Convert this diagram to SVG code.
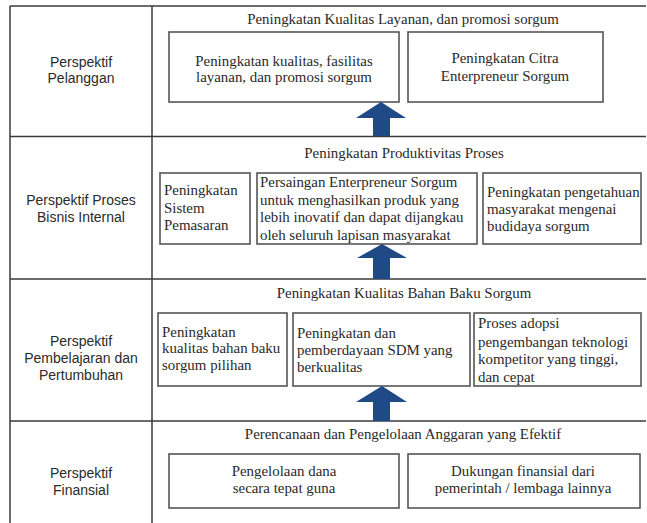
<svg xmlns="http://www.w3.org/2000/svg" width="647" height="523" viewBox="0 0 647 523">
<style>
.frame{stroke:#3a3a3a;stroke-width:1.5;fill:none}
.box{fill:#fff;stroke:#555;stroke-width:1.6}
.lbl{font-family:"Liberation Sans",Arial,sans-serif;font-size:14px;fill:#2a2a2a;text-anchor:middle}
.t{font-family:"Liberation Serif","Times New Roman",serif;font-size:14.9px;fill:#2a2a2a}
.c{text-anchor:middle}
.arr{fill:#1f4a86}
</style>
<rect width="647" height="523" fill="#fff"/>
<g id="grid" class="frame">
<line x1="10" y1="6" x2="646" y2="6"/>
<line x1="10" y1="6" x2="10" y2="523"/>
<line x1="152" y1="6" x2="152" y2="523"/>
<line x1="10" y1="136.5" x2="646" y2="136.5"/>
<line x1="10" y1="279" x2="646" y2="279"/>
<line x1="10" y1="421" x2="646" y2="421"/>
</g>
<g id="label-pelanggan"><text class="lbl" x="81" y="67">Perspektif</text><text class="lbl" x="81" y="83">Pelanggan</text></g>
<g id="label-proses"><text class="lbl" x="81" y="205">Perspektif Proses</text><text class="lbl" x="81" y="222">Bisnis Internal</text></g>
<g id="label-pembelajaran"><text class="lbl" x="81" y="346">Perspektif</text><text class="lbl" x="81" y="363">Pembelajaran dan</text><text class="lbl" x="81" y="380">Pertumbuhan</text></g>
<g id="label-finansial"><text class="lbl" x="81" y="478">Perspektif</text><text class="lbl" x="81" y="495">Finansial</text></g>

<g id="title1"><text class="t c" x="403" y="24">Peningkatan Kualitas Layanan, dan promosi sorgum</text></g>
<g id="box1a"><rect class="box" x="169" y="32" width="230" height="70"/><text class="t c" x="284" y="66">Peningkatan kualitas, fasilitas</text><text class="t c" x="284" y="82">layanan, dan promosi sorgum</text></g>
<g id="box1b"><rect class="box" x="408" y="32" width="195" height="70"/><text class="t c" x="505" y="63">Peningkatan Citra</text><text class="t c" x="505" y="81">Enterpreneur Sorgum</text></g>

<g id="title2"><text class="t c" x="404" y="158">Peningkatan Produktivitas Proses</text></g>
<g id="box2a"><rect class="box" x="160" y="173" width="90" height="71"/><text class="t" x="164" y="195">Peningkatan</text><text class="t" x="164" y="213">Sistem</text><text class="t" x="164" y="230">Pemasaran</text></g>
<g id="box2b"><rect class="box" x="257" y="173" width="220" height="71"/><text class="t" x="260" y="187">Persaingan Enterpreneur Sorgum</text><text class="t" x="260" y="205">untuk menghasilkan produk yang</text><text class="t" x="260" y="222">lebih inovatif dan dapat dijangkau</text><text class="t" x="260" y="240">oleh seluruh lapisan masyarakat</text></g>
<g id="box2c"><rect class="box" x="483" y="173" width="158" height="71"/><text class="t" x="487" y="197">Peningkatan pengetahuan</text><text class="t" x="487" y="214">masyarakat mengenai</text><text class="t" x="487" y="231">budidaya sorgum</text></g>

<g id="title3"><text class="t c" x="404" y="298">Peningkatan Kualitas Bahan Baku Sorgum</text></g>
<g id="box3a"><rect class="box" x="158" y="313" width="129" height="73"/><text class="t" x="162" y="337">Peningkatan</text><text class="t" x="162" y="353">kualitas bahan baku</text><text class="t" x="162" y="370">sorgum pilihan</text></g>
<g id="box3b"><rect class="box" x="293" y="313" width="177" height="73"/><text class="t" x="297" y="338">Peningkatan dan</text><text class="t" x="297" y="355">pemberdayaan SDM yang</text><text class="t" x="297" y="372">berkualitas</text></g>
<g id="box3c"><rect class="box" x="474" y="313" width="167" height="73"/><text class="t" x="478" y="328">Proses adopsi</text><text class="t" x="478" y="347">pengembangan teknologi</text><text class="t" x="478" y="364">kompetitor yang tinggi,</text><text class="t" x="478" y="382">dan cepat</text></g>

<g id="title4"><text class="t c" x="403" y="439">Perencanaan dan Pengelolaan Anggaran yang Efektif</text></g>
<g id="box4a"><rect class="box" x="169" y="454" width="230" height="54"/><text class="t c" x="284" y="476">Pengelolaan dana</text><text class="t c" x="284" y="493">secara tepat guna</text></g>
<g id="box4b"><rect class="box" x="408" y="454" width="232" height="54"/><text class="t c" x="523" y="476">Dukungan finansial dari</text><text class="t c" x="523" y="493">pemerintah / lembaga lainnya</text></g>

<g id="connectors">
<polygon class="arr" points="381,102 406,118 390,118 390,136 373,136 373,118 356,118"/>
<polygon class="arr" points="382,244 407,258 390,258 390,279 373,279 373,258 357,258"/>
<polygon class="arr" points="382,386 407,402 390,402 390,421 373,421 373,402 356,402"/>
</g>
</svg>
